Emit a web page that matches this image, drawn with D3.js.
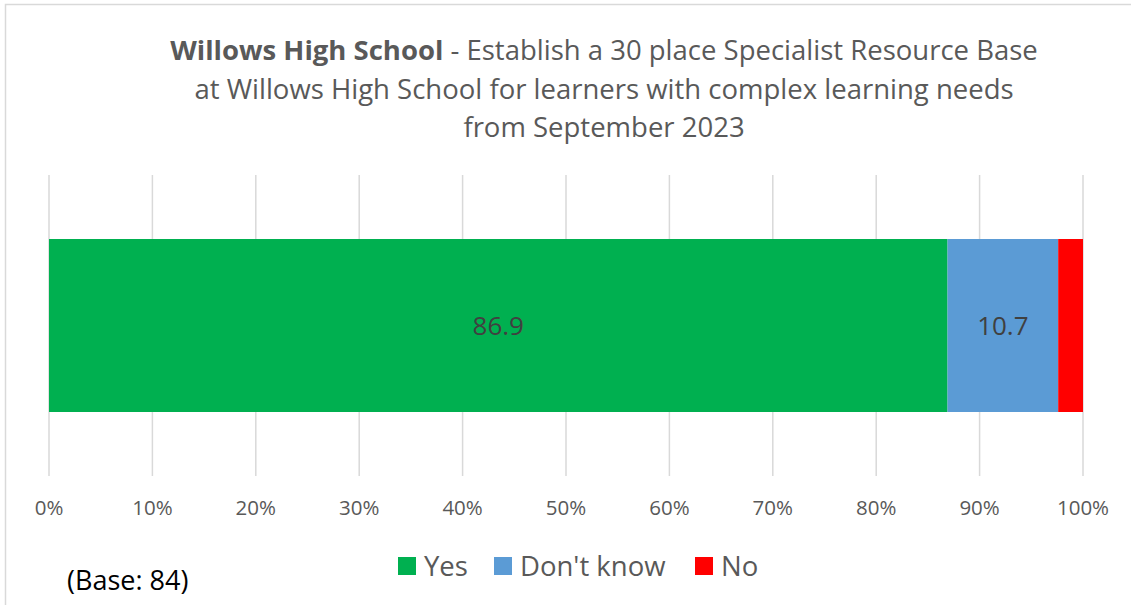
<!DOCTYPE html>
<html>
<head>
<meta charset="utf-8">
<script src="https://cdn.jsdelivr.net/npm/d3@7"></script>
<style>
  body { margin: 0; background: #fff; }
  text { font-family: "Open Sans", "Noto Sans", sans-serif; }
</style>
</head>
<body>
<svg id="chart"></svg>
<script>
// data
var categories = ["Willows High School"];
var seriesNames = ["Yes", "Don't know", "No"];
var seriesValues = [86.9, 10.7, 2.4];
var seriesColors = ["#00b050", "#5b9bd5", "#ff0000"];
var tickValues = [0, 10, 20, 30, 40, 50, 60, 70, 80, 90, 100];
var titleLines = [
  ["Willows High School", " - Establish a 30 place Specialist Resource Base"],
  ["", "at Willows High School for learners with complex learning needs"],
  ["", "from September 2023"]
];
var baseNote = "(Base: 84)";

var width = 1131, height = 605;
var svg = d3.select("#chart").attr("width", width).attr("height", height);

// outer chart border (only top/left visible in the crop)
svg.append("rect")
  .attr("x", 5.5).attr("y", 4.5)
  .attr("width", width + 10).attr("height", height + 10)
  .attr("fill", "none").attr("stroke", "#d9d9d9").attr("stroke-width", 1.5);

var x = d3.scaleLinear().domain([0, 100]).range([49, 1083]);
var y = d3.scaleBand().domain(categories).range([175, 476]).paddingInner(0).paddingOuter(0.37);

// gridlines
svg.append("g").selectAll("line")
  .data(tickValues)
  .enter().append("line")
  .attr("x1", function(d) { return x(d); })
  .attr("x2", function(d) { return x(d); })
  .attr("y1", 175).attr("y2", 476)
  .attr("stroke", "#d9d9d9").attr("stroke-width", 1.5);

// tick labels
svg.append("g").selectAll("text")
  .data(tickValues)
  .enter().append("text")
  .attr("x", function(d) { return x(d); })
  .attr("y", 515)
  .attr("text-anchor", "middle")
  .attr("font-size", 20.5)
  .attr("fill", "#595959")
  .text(function(d) { return d + "%"; });

// stacked segments
var stackData = [];
var acc = 0;
for (var i = 0; i < seriesValues.length; i++) {
  stackData.push({name: seriesNames[i], value: seriesValues[i], x0: acc, x1: acc + seriesValues[i], color: seriesColors[i]});
  acc += seriesValues[i];
}

var seg = svg.append("g").selectAll("g")
  .data(stackData)
  .enter().append("g");

seg.append("rect")
  .attr("x", function(d) { return x(d.x0); })
  .attr("width", function(d) { return x(d.x1) - x(d.x0); })
  .attr("y", y(categories[0]))
  .attr("height", y.bandwidth())
  .attr("fill", function(d) { return d.color; });

seg.filter(function(d) { return d.value > 5; })
  .append("text")
  .attr("x", function(d) { return (x(d.x0) + x(d.x1)) / 2; })
  .attr("y", y(categories[0]) + y.bandwidth() / 2)
  .attr("dy", "0.35em")
  .attr("text-anchor", "middle")
  .attr("font-size", 26)
  .attr("fill", "#404040")
  .text(function(d) { return d.value.toFixed(1); });

// title
var title = svg.append("text")
  .attr("text-anchor", "middle")
  .attr("font-size", 27.5)
  .attr("fill", "#595959");
titleLines.forEach(function(parts, i) {
  var line = title.append("tspan").attr("x", 604).attr("y", 60 + i * 38.5);
  if (parts[0]) line.append("tspan").attr("font-weight", "bold").text(parts[0]);
  line.append("tspan").text(parts[1]);
});

// legend
var legendX = [398, 494, 695];
var legend = svg.append("g").selectAll("g")
  .data(stackData)
  .enter().append("g")
  .attr("transform", function(d, i) { return "translate(" + legendX[i] + ",557)"; });
legend.append("rect")
  .attr("width", 18).attr("height", 18)
  .attr("fill", function(d) { return d.color; });
legend.append("text")
  .attr("x", 26).attr("y", 9).attr("dy", "0.36em")
  .attr("font-size", 27.5)
  .attr("fill", "#595959")
  .text(function(d) { return d.name; });

// base note
svg.append("text")
  .attr("x", 67).attr("y", 590)
  .attr("font-size", 27)
  .attr("fill", "#000")
  .text(baseNote);
</script>
</body>
</html>
